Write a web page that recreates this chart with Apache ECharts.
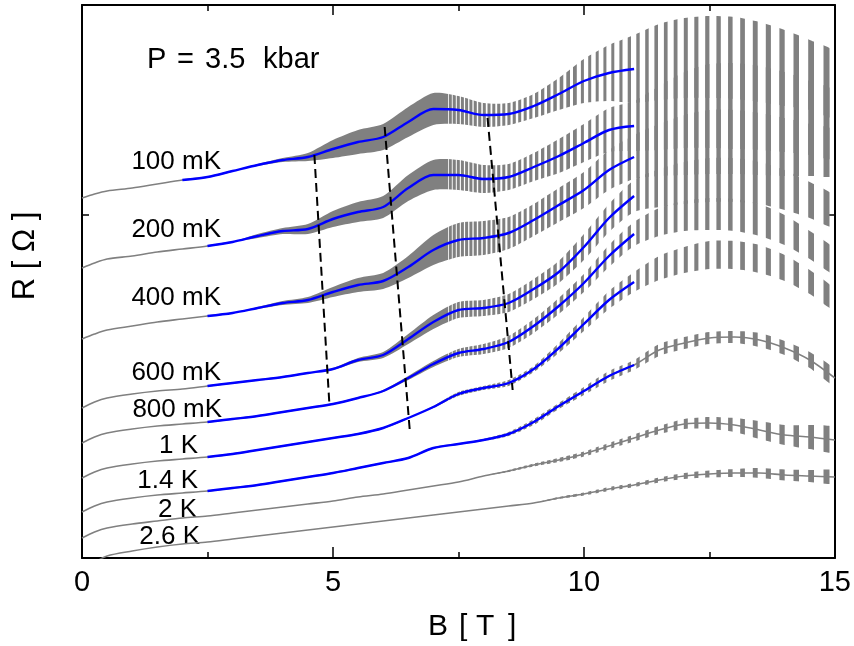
<!DOCTYPE html>
<html><head><meta charset="utf-8">
<script src="https://cdn.jsdelivr.net/npm/echarts@6/dist/echarts.min.js"></script>
<style>html,body{margin:0;padding:0;background:#fff}#c{width:854px;height:646px}</style>
</head><body><div id="c"></div>
<script>
// ---------- data (B in tesla, R in arbitrary offset units) ----------
const fieldB = [0,0.25,0.5,1,1.5,2,2.5,3,3.5,4,4.5,5,5.5,6,6.5,7,7.5,8,8.5,9,9.5,10,10.5,11,11.5,12,12.5,13,13.5,14,14.5,15];
const tempLabels = ['100 mK','200 mK','400 mK','600 mK','800 mK','1 K','1.4 K','2 K','2.6 K'];

// smooth background (centre of the oscillations) for each temperature
const r100mK = [36.0,36.4,36.7,37.0,37.4,37.8,38.1,38.7,39.3,39.8,40.1,40.9,41.6,42.1,43.6,44.9,44.8,44.3,44.4,45.2,46.4,47.7,48.5,48.9,49.6,50.0,50.1,50.0,49.6,49.0,48.3,47.3];
const r200mK = [29.0,29.5,29.9,30.2,30.6,30.9,31.2,31.6,32.2,32.7,32.9,33.9,34.6,35.1,37.0,38.3,38.3,37.9,38.1,39.1,40.2,41.5,42.8,43.2,44.0,44.8,45.2,45.2,45.0,44.6,44.0,43.3];
const r400mK = [21.9,22.4,22.8,23.2,23.6,23.9,24.2,24.5,25.0,25.5,25.8,26.6,27.3,27.7,29.1,30.8,31.8,32.0,32.5,33.8,35.3,36.8,38.8,40.1,40.8,41.3,41.6,41.6,41.4,41.1,40.8,40.5];
const r600mK = [15.0,15.6,16.0,16.4,16.7,16.9,17.2,17.5,17.8,18.1,18.5,18.9,19.8,20.3,21.9,23.6,24.8,25.0,25.5,26.9,28.6,31.1,34.0,36.2,37.0,37.5,37.8,37.8,37.5,36.8,35.8,34.6];
const r800mK = [11.5,12.1,12.5,12.9,13.2,13.4,13.6,13.9,14.2,14.6,15.0,15.4,16.0,16.7,18.0,19.4,20.5,20.9,21.6,23.2,25.2,27.5,30.2,32.4,33.6,34.2,34.4,34.3,33.8,32.8,31.3,29.6];
const r1K    = [8.0,8.6,9.0,9.4,9.7,9.9,10.1,10.4,10.8,11.2,11.6,12.0,12.4,13.0,14.0,15.1,16.4,17.0,17.5,18.9,21.0,23.4,25.8,27.6,29.0,29.8,30.3,30.3,29.9,29.0,27.6,25.8];
const r1p4K  = [4.6,5.2,5.6,6.0,6.3,6.5,6.7,7.0,7.3,7.7,8.1,8.5,9.0,9.5,10.0,11.0,11.4,11.8,12.4,13.6,15.2,16.7,18.2,19.3,20.8,21.5,22.0,22.1,21.8,21.0,19.8,18.0];
const r2K    = [2.0,2.6,3.0,3.4,3.7,4.0,4.2,4.5,4.8,5.1,5.4,5.7,6.1,6.4,6.8,7.2,7.6,8.2,8.7,9.3,9.8,10.4,11.2,12.0,12.8,13.4,13.5,13.3,12.8,12.3,12.1,11.8];
const r2p6K  = [-1.7,-0.5,0.2,0.7,1.1,1.4,1.6,1.9,2.2,2.5,2.8,3.1,3.4,3.7,4.0,4.3,4.6,4.9,5.2,5.5,6.0,6.4,6.9,7.3,7.8,8.2,8.4,8.5,8.5,8.3,8.2,8.1];

// half peak-to-peak amplitude of the quantum oscillations
const a100mK = [0,0,0,0,0,0,0,0,0.1,0.2,0.4,0.9,1.2,1.3,1.5,1.6,1.4,1.2,1.1,1.2,1.6,2.2,2.8,3.4,3.8,4.0,4.1,4.1,4.0,3.8,3.5,3.2];
const a200mK = [0,0,0,0,0,0,0,0,0.2,0.3,0.5,0.8,1.0,1.1,1.3,1.5,1.5,1.4,1.3,1.4,1.7,1.9,2.2,2.5,3.2,3.8,4.2,4.3,4.2,4.0,3.7,3.3];
const a400mK = [0,0,0,0,0,0,0,0,0.1,0.2,0.3,0.5,0.7,0.8,1.1,1.5,1.7,1.7,1.6,1.6,1.7,1.8,2.0,2.2,2.6,3.0,3.2,3.2,3.1,2.9,2.6,2.2];
const a600mK = [0,0,0,0,0,0,0,0,0,0,0,0.1,0.2,0.3,0.5,0.7,0.8,0.8,0.9,1.0,1.1,1.3,1.4,1.6,1.9,2.1,2.2,2.2,2.1,2.0,1.8,1.5];
const a800mK = [0,0,0,0,0,0,0,0,0,0,0,0,0,0.1,0.2,0.3,0.4,0.5,0.6,0.7,0.8,0.9,1.1,1.2,1.4,1.5,1.6,1.6,1.6,1.5,1.4,1.2];
const a1K    = [0,0,0,0,0,0,0,0,0,0,0,0,0,0,0,0.1,0.2,0.2,0.3,0.3,0.5,0.7,0.9,1.0,1.2,1.3,1.4,1.4,1.4,1.3,1.2,1.0];
const a1p4K  = [0,0,0,0,0,0,0,0,0,0,0,0,0,0,0,0,0,0.1,0.2,0.3,0.3,0.4,0.5,0.5,0.6,0.6,0.6,0.6,0.7,0.7,0.8,0.8];
const a2K    = [0,0,0,0,0,0,0,0,0,0,0,0,0,0,0,0,0,0,0.1,0.15,0.2,0.25,0.3,0.35,0.4,0.5,0.6,0.7,0.9,1.0,1.2,1.2];
const a2p6K  = [0,0,0,0,0,0,0,0,0,0,0,0,0,0,0,0,0,0,0,0,0.1,0.15,0.2,0.2,0.25,0.3,0.35,0.4,0.5,0.55,0.6,0.65];

// field range of the blue smooth backgrounds
const blueStartB = [2, 2.5, 2.5, 2.5, 2.5, 2.5, 2.5, null, null];
const blueEndB = 11;

// dashed guide lines [B, R]
const dashA = [[4.63, 40.3], [4.93, 15.3]];
const dashB = [[6.03, 43.1], [6.53, 12.8]];
const dashC = [[8.08, 44.0], [8.58, 16.8]];

const xTicks = [0, 5, 10, 15];
const yTickR = [34.3];
const sdhFrequencyT = 700;   // oscillation frequency read from the spacing of the peaks

const centers = [r100mK, r200mK, r400mK, r600mK, r800mK, r1K, r1p4K, r2K, r2p6K];
const amps = [a100mK, a200mK, a400mK, a600mK, a800mK, a1K, a1p4K, a2K, a2p6K];

// ---------- chart ----------
const FONT = "'Liberation Sans', Arial, Helvetica, sans-serif";
const chart = echarts.init(document.getElementById('c'), null, {renderer: 'canvas'});

function axisX(pos, showLabel, tickLen) {
  return {
    type: 'value', min: xTicks[0], max: xTicks[xTicks.length - 1], interval: xTicks[1] - xTicks[0],
    position: pos,
    axisLine: {show: true, onZero: false, lineStyle: {color: '#000', width: 2}},
    axisTick: {show: true, inside: true, length: tickLen, lineStyle: {color: '#000', width: 1.5}},
    minorTick: {show: true, splitNumber: 2, length: 6, lineStyle: {color: '#000', width: 1.5}},
    axisLabel: {show: showLabel, fontSize: 29, color: '#000', margin: 10, fontFamily: FONT},
    splitLine: {show: false}, minorSplitLine: {show: false}
  };
}
function axisY(pos) {
  return {
    type: 'value', min: 0, max: 55.3, position: pos,
    axisLine: {show: true, onZero: false, lineStyle: {color: '#000', width: 2}},
    axisTick: {show: true, inside: true, length: 7, customValues: yTickR, lineStyle: {color: '#000', width: 1.5}},
    axisLabel: {show: false}, splitLine: {show: false}
  };
}

function txt(x, y, s, size, align, rot) {
  return {type: 'text', x: x, y: y, rotation: rot || 0, silent: true,
    style: {text: s, font: size + 'px ' + FONT, fill: '#000', textAlign: align, textVerticalAlign: 'middle'}};
}

function buildOption(pattern) {
  const series = [];
  centers.forEach((c, k) => {
    const a = amps[k];
    const firstOsc = a.findIndex(v => v > 0);
    const bandStart = firstOsc - 1;
    const full = Math.max.apply(null, a) < 1.3;
    // gray smooth trace where there are no (or only small) oscillations
    series.push({
      type: 'line', name: tempLabels[k], z: 3, silent: true, animation: false,
      data: fieldB.map((b, i) => [b, (full || i <= bandStart) ? c[i] : null]),
      smooth: 0.3, symbol: 'none', lineStyle: {color: '#808080', width: 1.6}
    });
    // oscillation envelope band
    const rows = [];
    for (let i = bandStart; i < fieldB.length; i++) rows.push([fieldB[i], +(c[i] - a[i]).toFixed(3), +(c[i] + a[i]).toFixed(3)]);
    series.push({
      type: 'custom', z: 2, silent: true, animation: false, clip: true,
      data: rows, encode: {x: 0, y: [1, 2]},
      renderItem: function (params, api) {
        if (params.dataIndex !== 0) return null;
        const up = [], lo = [];
        rows.forEach(r => { up.push(api.coord([r[0], r[2]])); lo.push(api.coord([r[0], r[1]])); });
        return {type: 'polygon', shape: {points: up.concat(lo.reverse()), smooth: 0.25},
          style: {fill: pattern || '#808080'}};
      }
    });
    if (blueStartB[k] != null) {
      series.push({
        type: 'line', z: 4, silent: true, animation: false,
        data: fieldB.map((b, i) => [b, c[i]]).filter(p => p[0] >= blueStartB[k] && p[0] <= blueEndB),
        smooth: 0.3, symbol: 'none', lineStyle: {color: '#0000ff', width: 2.4}
      });
    }
  });
  [dashA, dashB, dashC].forEach(d => series.push({
    type: 'line', z: 5, silent: true, animation: false, data: d, symbol: 'none',
    lineStyle: {color: '#000', width: 2, type: [9, 5]}
  }));

  const labelPos = [[221,162],[221,230],[221,298],[221,373],[222,410],[198,446],[198,481],[197,510],[200,537]];
  const graphic = tempLabels.map((t, k) => txt(labelPos[k][0], labelPos[k][1], t, 26, 'right'));
  graphic.push(txt(147, 60, 'P', 29, 'left'), txt(177, 60, '=', 29, 'left'),
                txt(205, 60, '3.5', 29, 'left'), txt(263, 60, 'kbar', 29, 'left'));
  graphic.push(txt(428, 627, 'B', 30, 'left'), txt(459, 627, '[', 30, 'left'),
               txt(476, 627, 'T', 30, 'left'), txt(508, 627, ']', 30, 'left'));
  graphic.push(txt(25, 256, 'R [ Ω ]', 31, 'center', Math.PI / 2));

  return {
    animation: false,
    backgroundColor: '#fff',
    grid: {left: 82, right: 18, top: 5, bottom: 88, containLabel: false},
    xAxis: [axisX('bottom', true, 11), axisX('top', false, 10)],
    yAxis: [axisY('left'), axisY('right')],
    series: series,
    graphic: graphic
  };
}

chart.setOption(buildOption(null));

// stripe texture for the resolved oscillations (spacing grows like B^2/F)
function stripePattern() {
  const x0 = chart.convertToPixel({xAxisIndex: 0}, 0);
  const x1 = chart.convertToPixel({xAxisIndex: 0}, 15);
  const pxPerT = (x1 - x0) / 15;
  const W = 854, H = 4;
  const cv = document.createElement('canvas'); cv.width = W; cv.height = H;
  const ctx = cv.getContext('2d');
  const img = ctx.createImageData(W, H);
  for (let x = 0; x < W; x++) {
    let cov = 0; const S = 10;
    for (let s = 0; s < S; s++) {
      const B = (x + (s + 0.5) / S - x0) / pxPerT;
      if (B <= 0.5) { cov++; continue; }
      const pitch = B * B / sdhFrequencyT * pxPerT;
      if (pitch < 3.8) { cov++; continue; }
      const duty = Math.max(pitch < 7 ? 0.55 : 0.38, Math.min(1, 3.0 / pitch));
      const ph = sdhFrequencyT / B;
      if (ph - Math.floor(ph) < duty) cov++;
    }
    const al = Math.round(255 * cov / S);
    for (let yy = 0; yy < H; yy++) {
      const o = (yy * W + x) * 4;
      img.data[o] = 128; img.data[o + 1] = 128; img.data[o + 2] = 128; img.data[o + 3] = al;
    }
  }
  ctx.putImageData(img, 0, 0);
  return {image: cv, repeat: 'repeat'};
}
chart.setOption(buildOption(stripePattern()), true);
</script></body></html>
